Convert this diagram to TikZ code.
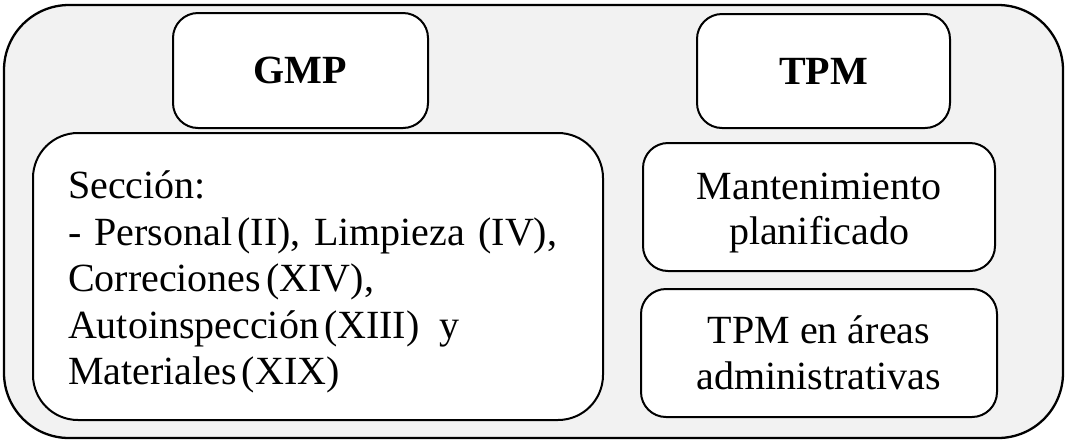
\documentclass[tikz,border=0pt]{standalone}
\usepackage{fontspec}
\setmainfont{Liberation Serif}
\definecolor{bggray}{HTML}{F2F2F2}
\newcommand{\tightsp}{\hspace{5pt}}
\newcommand{\topstrut}{\rule{0pt}{39pt}}
\begin{document}
\begin{tikzpicture}[x=1pt,y=-1pt,
  box/.style={draw=black, line width=2pt, fill=white, rounded corners=25pt,
    inner sep=0pt, align=center, font=\fontsize{40}{46.5}\selectfont},
  headbox/.style={box, font=\fontsize{40}{46.5}\selectfont\bfseries},
]
\useasboundingbox (0,0) rectangle (1065,440);
\node[draw=black, line width=2.3pt, fill=bggray, rounded corners=65pt,
  minimum width=1059pt, minimum height=433pt, inner sep=0pt] (frame) at (533.5,221.5) {};
\node[headbox, minimum width=255pt, minimum height=115pt] (gmp) at (300.5,70.5) {GMP};
\node[headbox, minimum width=253pt, minimum height=114pt] (tpm) at (823.5,71) {TPM};
\node[box, rounded corners=45pt, minimum width=570pt, minimum height=287pt,
  text width=500pt, align=left] (secc) at (318,276.5)
  {\topstrut Sección:\\- Personal\tightsp(II), Limpieza (IV),\\Correciones\tightsp(XIV),\\Autoinspección\tightsp(XIII)\hspace{20pt}y\\Materiales\tightsp(XIX)};
\node[box, minimum width=352pt, minimum height=128pt,
  font=\fontsize{40}{45}\selectfont] (mant) at (819,207)
  {\topstrut Mantenimiento\\planificado};
\node[box, minimum width=356pt, minimum height=128pt] (areas) at (819,353)
  {TPM en áreas\\administrativas};
\end{tikzpicture}
\end{document}
